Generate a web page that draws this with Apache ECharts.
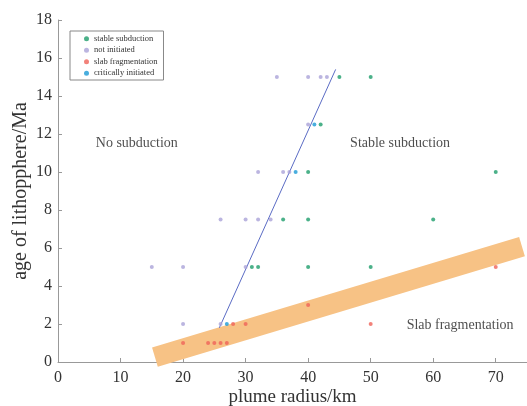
<!DOCTYPE html>
<html>
<head>
<meta charset="utf-8">
<script src="https://cdn.jsdelivr.net/npm/echarts@6/dist/echarts.min.js"></script>
<style>
  html, body { margin: 0; padding: 0; background: #fff; }
  #chart { width: 527px; height: 406px; }
</style>
</head>
<body>
<div id="chart"></div>
<script>
// data: [plume radius (km), age of lithosphere (Ma)]
const stableSubduction = [
  [45, 15], [50, 15], [42, 12.5], [40, 10], [70, 10],
  [36, 7.5], [40, 7.5], [60, 7.5], [31, 5], [32, 5], [40, 5], [50, 5]
]
const notInitiated = [
  [35, 15], [40, 15], [42, 15], [43, 15], [40, 12.5],
  [32, 10], [36, 10], [37, 10], [26, 7.5], [30, 7.5], [32, 7.5], [34, 7.5],
  [15, 5], [20, 5], [30, 5], [20, 2], [26, 2]
]
const slabFragmentation = [
  [40, 3], [70, 5], [28, 2], [30, 2], [50, 2],
  [20, 1], [24, 1], [25, 1], [26, 1], [27, 1]
]
const criticallyInitiated = [
  [41, 12.5], [38, 10], [27, 2]
]
// boundary line between no subduction / stable subduction
const boundaryLine = [[25.8, 1.8], [44.4, 15.4]]
// fragmentation band (centre line)
const fragBand = [[15.5, 0.26], [74.2, 6.07]]
// region labels
const regionLabels = [
  ["No subduction", 12.6, 11.5],
  ["Stable subduction", 54.7, 11.5],
  ["Slab fragmentation", 64.3, 1.95]
]
const seriesNames = ["stable subduction", "not initiated", "slab fragmentation", "critically initiated"]
const xTicks = { min: 0, max: 75, interval: 10 }
const yTicks = { min: 0, max: 18, interval: 2 }

const serif = "Liberation Serif"

const chart = echarts.init(document.getElementById("chart"))

const scatterStyle = (name, data, color) => ({
  name: name,
  type: "scatter",
  data: data,
  symbol: "circle",
  symbolSize: 4,
  itemStyle: { color: color },
  z: 5,
})

const option = {
  animation: false,
  grid: { left: 58, right: 0, top: 20, bottom: 44, outerBoundsMode: "none", containLabel: false },
  legend: {
    data: seriesNames,
    orient: "vertical",
    left: 70,
    top: 31,
    borderColor: "#888",
    borderWidth: 1,
    padding: [3, 6, 2, 14],
    itemWidth: 5,
    itemHeight: 5,
    itemGap: 2,
    icon: "circle",
    textStyle: { fontFamily: serif, fontSize: 8.5, color: "#333", lineHeight: 9.5 },
  },
  xAxis: {
    type: "value",
    min: xTicks.min,
    max: xTicks.max,
    interval: xTicks.interval,
    name: "plume radius/km",
    nameLocation: "middle",
    nameGap: 26,
    nameMoveOverlap: false,
    nameTextStyle: { fontFamily: serif, fontSize: 19, color: "#333" },
    axisLine: { lineStyle: { color: "#999" } },
    axisTick: { inside: true, length: 4, lineStyle: { color: "#999" } },
    axisLabel: { fontFamily: serif, fontSize: 16, color: "#333", margin: 8, showMaxLabel: false },
    splitLine: { show: false },
  },
  yAxis: {
    type: "value",
    min: yTicks.min,
    max: yTicks.max,
    interval: yTicks.interval,
    name: "age of lithopphere/Ma",
    nameLocation: "middle",
    nameGap: 27,
    nameMoveOverlap: false,
    nameTextStyle: { fontFamily: serif, fontSize: 20, color: "#333" },
    axisLine: { show: true, lineStyle: { color: "#999" } },
    axisTick: { show: true, inside: true, length: 4, lineStyle: { color: "#999" } },
    axisLabel: { fontFamily: serif, fontSize: 16, color: "#333", margin: 6 },
    splitLine: { show: false },
  },
  series: [
    {
      name: "band",
      type: "line",
      data: fragBand,
      symbol: "none",
      clip: false,
      lineStyle: { color: "#f7c285", width: 20, cap: "butt" },
      z: 1,
      silent: true,
    },
    {
      name: "boundary",
      type: "line",
      data: boundaryLine,
      symbol: "none",
      lineStyle: { color: "#5a6bc4", width: 1 },
      z: 2,
      silent: true,
    },
    scatterStyle(seriesNames[0], stableSubduction, "#1e9e6c"),
    scatterStyle(seriesNames[1], notInitiated, "#aaa2d8"),
    scatterStyle(seriesNames[2], slabFragmentation, "#ef6359"),
    scatterStyle(seriesNames[3], criticallyInitiated, "#1c9ad6"),
    {
      name: "labels",
      type: "scatter",
      symbolSize: 0,
      data: regionLabels.map((d) => ({ value: [d[1], d[2]], name: d[0] })),
      label: {
        show: true,
        position: "inside",
        formatter: (p) => p.name,
        fontFamily: serif,
        fontSize: 14,
        color: "#222",
      },
      silent: true,
      z: 6,
    },
  ],
}

chart.setOption(option)
</script>
</body>
</html>
